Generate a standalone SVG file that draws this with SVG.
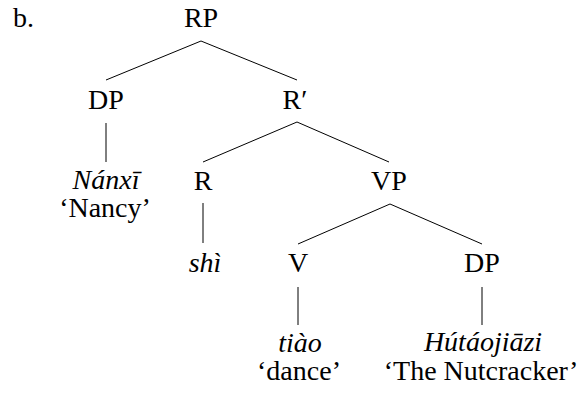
<svg xmlns="http://www.w3.org/2000/svg" width="588" height="399" viewBox="0 0 588 399">
<style>
.e{stroke:#000;stroke-width:1;fill:none}
</style>
<rect width="588" height="399" fill="#fff"/>
<text x="13" y="27" font-size="28" font-family="Liberation Serif">b.</text>
<g id="edges">
<line class="e" x1="201" y1="41" x2="106" y2="80"/>
<line class="e" x1="201" y1="41" x2="297" y2="80"/>
<line class="e" x1="106" y1="123" x2="106" y2="162"/>
<line class="e" x1="297" y1="122" x2="203" y2="162"/>
<line class="e" x1="297" y1="122" x2="389" y2="162"/>
<line class="e" x1="203" y1="203" x2="203" y2="243"/>
<line class="e" x1="390" y1="204" x2="298" y2="244"/>
<line class="e" x1="390" y1="204" x2="482" y2="244"/>
<line class="e" x1="298" y1="287" x2="298" y2="325"/>
<line class="e" x1="482" y1="287" x2="482" y2="325"/>
</g>
<g id="RP"><text x="201" y="27" font-size="28" font-family="Liberation Serif" text-anchor="middle">RP</text></g>
<g id="DP1"><text x="106" y="109" font-size="28" font-family="Liberation Serif" text-anchor="middle">DP</text></g>
<g id="Rbar"><text x="295" y="109" font-size="28" font-family="Liberation Serif" text-anchor="middle">R′</text></g>
<g id="Nanxi"><text x="106" y="189" font-size="28" font-family="Liberation Serif" font-style="italic" text-anchor="middle">Nánxī</text><text x="105" y="217" font-size="28" font-family="Liberation Serif" text-anchor="middle">‘Nancy’</text></g>
<g id="R"><text x="203" y="190" font-size="28" font-family="Liberation Serif" text-anchor="middle">R</text></g>
<g id="VP"><text x="389" y="190" font-size="28" font-family="Liberation Serif" text-anchor="middle">VP</text></g>
<g id="shi"><text x="205" y="272" font-size="28" font-family="Liberation Serif" font-style="italic" text-anchor="middle">shì</text></g>
<g id="V"><text x="298" y="272" font-size="28" font-family="Liberation Serif" text-anchor="middle">V</text></g>
<g id="DP2"><text x="482" y="272" font-size="28" font-family="Liberation Serif" text-anchor="middle">DP</text></g>
<g id="tiao"><text x="300" y="352" font-size="28" font-family="Liberation Serif" font-style="italic" text-anchor="middle">tiào</text><text x="299" y="380" font-size="28" font-family="Liberation Serif" text-anchor="middle">‘dance’</text></g>
<g id="Hutaojiazi"><text x="483" y="351" font-size="28" font-family="Liberation Serif" font-style="italic" text-anchor="middle">Hútáojiāzi</text><text x="481" y="380" font-size="28" font-family="Liberation Serif" text-anchor="middle">‘The Nutcracker’</text></g>
</svg>
